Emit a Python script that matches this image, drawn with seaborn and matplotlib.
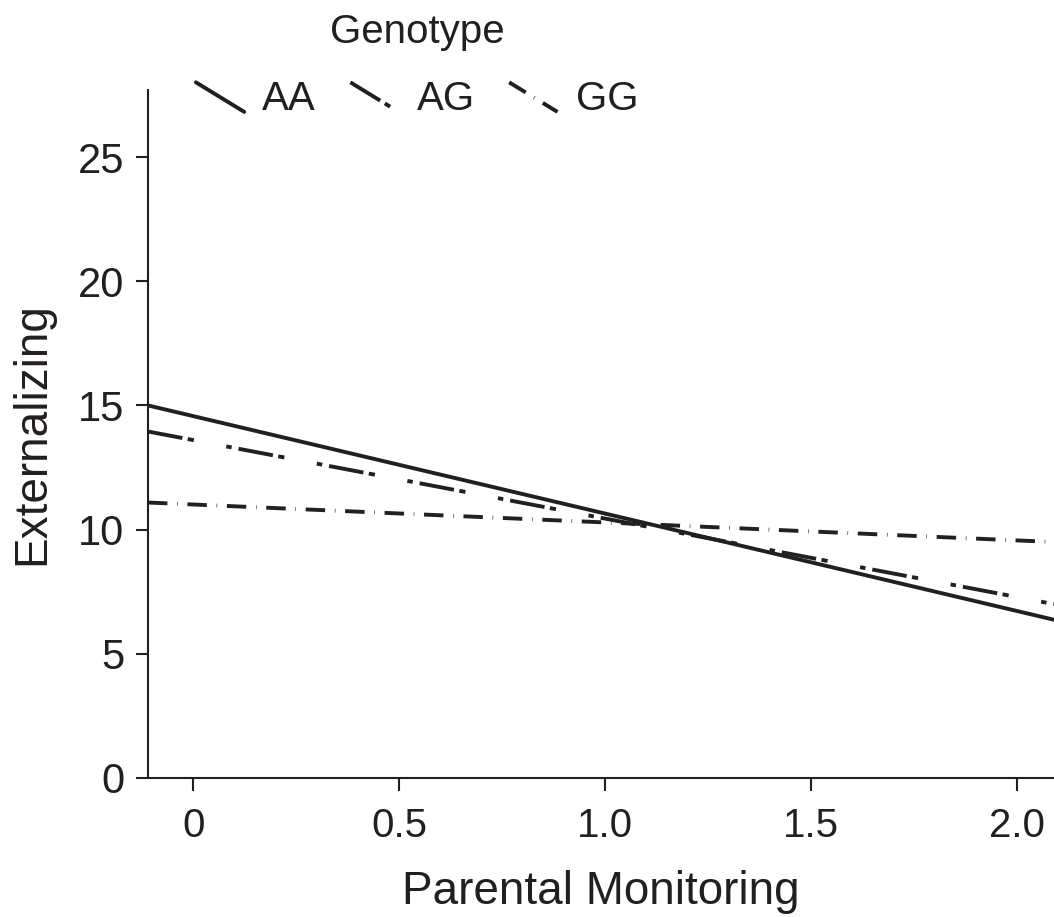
import numpy as np
import pandas as pd
import seaborn as sns
import matplotlib.pyplot as plt
from matplotlib.lines import Line2D
from matplotlib.legend_handler import HandlerLine2D


# values (line ends at the plot edges)
genotypes = ["AA", "AG", "GG"]
monitoring = [-0.11, 2.09]
aa_vals = [15.0, 6.37]
ag_vals = [13.95, 7.0]
gg_vals = [11.09, 9.5]

x_ticks = [0, 0.5, 1.0, 1.5, 2.0]
x_tick_labels = ["0", "0.5", "1.0", "1.5", "2.0"]
y_ticks = [0, 5, 10, 15, 20, 25]

df = pd.DataFrame({
    "monitoring": monitoring * 3,
    "externalizing": aa_vals + ag_vals + gg_vals,
    "genotype": [g for g in genotypes for _ in monitoring],
})

ink = "#231f20"
lw = 2.8
dash_styles = {
    "AA": "",
    "AG": (9.0, 1.4, 1.6, 8.5, 1.4, 1.8),
    "GG": (5.0, 2.5, 0.15, 2.5),
}

sns.set_theme(style="ticks")
plt.rcParams["font.family"] = ["Liberation Sans", "DejaVu Sans"]

fig = plt.figure(figsize=(10.54, 9.17), dpi=100)
ax = fig.add_axes([0.1404, 0.1516, 0.8596, 0.7503])

sns.lineplot(data=df, x="monitoring", y="externalizing", style="genotype",
             dashes=dash_styles, color=ink, linewidth=lw, legend=False, ax=ax)

ax.set_xlim(-0.11, 2.09)
ax.set_ylim(0, 27.7)
ax.set_xticks(x_ticks)
ax.set_xticklabels(x_tick_labels, fontsize=29)
ax.set_yticks(y_ticks)
ax.tick_params(axis="y", labelsize=30, colors=ink, length=9, width=1.5, pad=8)
ax.tick_params(axis="x", colors=ink, length=9, width=1.5, pad=12)
ax.set_xlabel("Parental Monitoring", fontsize=33, color=ink, labelpad=18)
ax.set_ylabel("Externalizing", fontsize=33, color=ink, labelpad=17)

sns.despine(ax=ax)
for s in ["left", "bottom"]:
    ax.spines[s].set_linewidth(1.5)
    ax.spines[s].set_color(ink)


class DiagHandler(HandlerLine2D):
    # legend keys in the figure are short slanted strokes
    def create_artists(self, legend, orig_handle, xdescent, ydescent,
                       width, height, fontsize, trans):
        line = Line2D([-xdescent, -xdescent + width],
                      [-ydescent + height * 1.0, -ydescent - height * 0.05])
        line.update_from(orig_handle)
        line.set_transform(trans)
        return [line]


handles = [Line2D([], [], color=ink, linewidth=lw, linestyle="-")]
for g in ["AG", "GG"]:
    h = Line2D([], [], color=ink, linewidth=lw)
    h.set_dashes(dash_styles[g])
    handles.append(h)

leg = fig.legend(handles, genotypes, title="Genotype", ncol=3, frameon=False,
                 loc="upper center", bbox_to_anchor=(417 / 1054, 1.025),
                 fontsize=29, title_fontsize=29, handlelength=1.2,
                 handletextpad=0.45, columnspacing=0.85,
                 handler_map={Line2D: DiagHandler()})
for t in leg.get_texts():
    t.set_color(ink)
leg.get_title().set_color(ink)
leg._legend_box.sep = 21

fig.savefig("out.png", dpi=100)
